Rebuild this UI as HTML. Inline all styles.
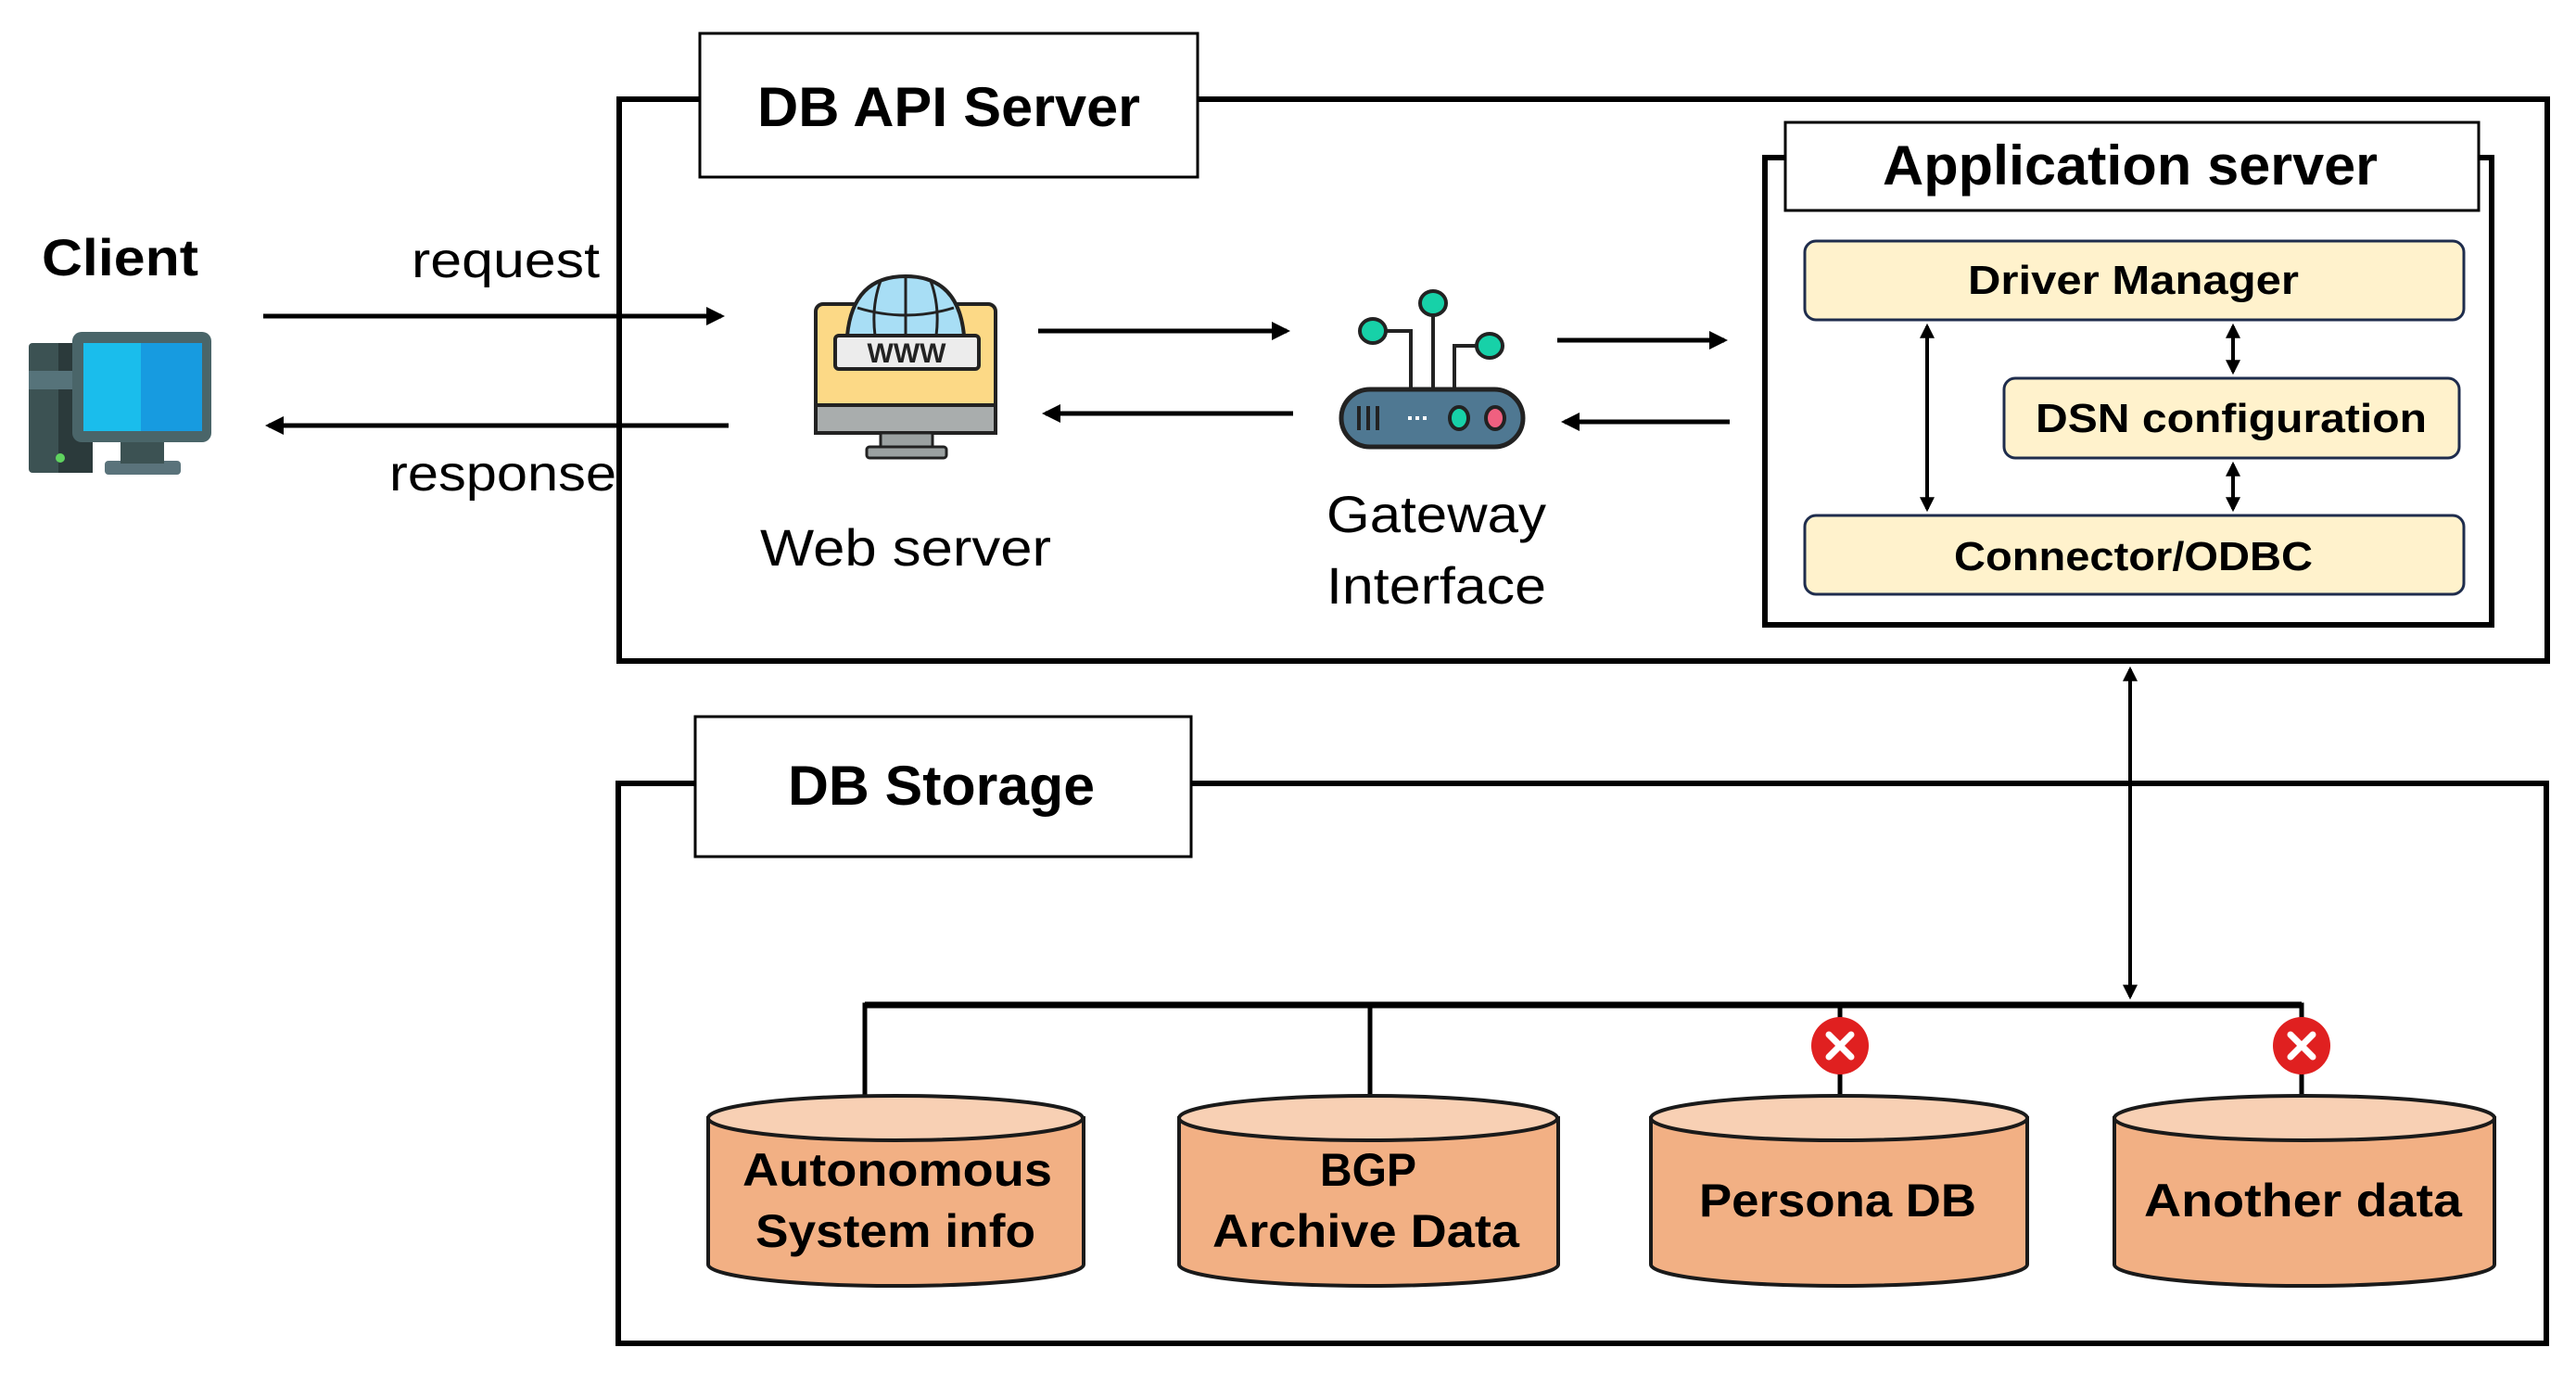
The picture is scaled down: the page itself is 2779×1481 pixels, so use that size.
<!DOCTYPE html>
<html><head><meta charset="utf-8"><style>html,body{margin:0;padding:0;background:#fff}svg{display:block}</style></head>
<body>
<svg width="2779" height="1481" viewBox="0 0 2779 1481" xmlns="http://www.w3.org/2000/svg" font-family="'Liberation Sans', sans-serif">
<defs>
<marker id="ah" markerWidth="4" markerHeight="4" refX="3.2" refY="2" orient="auto-start-reverse" markerUnits="strokeWidth"><path d="M0,0 L4,2 L0,4 Z" fill="#000"/></marker>
</defs>
<!-- DB API Server outer -->
<rect x="668" y="107" width="2080" height="606" fill="none" stroke="#000" stroke-width="6"/>
<rect x="755" y="36" width="537" height="155" fill="#fff" stroke="#000" stroke-width="3"/>
<text x="817" y="136" font-size="60" font-weight="bold" textLength="413" lengthAdjust="spacingAndGlyphs">DB API Server</text>

<!-- Client -->
<text x="45" y="297" font-size="56" font-weight="bold" textLength="169" lengthAdjust="spacingAndGlyphs">Client</text>
<rect x="31" y="370" width="69" height="140" rx="4" fill="#3c5253"/>
<rect x="63" y="370" width="37" height="140" fill="#2b3a3b"/>
<rect x="31" y="400" width="69" height="20" fill="#56737a"/>
<circle cx="65" cy="494" r="5" fill="#5fd35f"/>
<rect x="113" y="497" width="82" height="15" rx="4" fill="#5a737b"/>
<rect x="130" y="474" width="47" height="26" fill="#3c5253"/>
<rect x="78" y="358" width="150" height="119" rx="10" fill="#4a6569"/>
<rect x="90" y="370" width="62" height="95" fill="#1abdec"/>
<rect x="152" y="370" width="66" height="95" fill="#179be0"/>

<!-- request / response -->
<text x="444" y="299" font-size="54" textLength="203" lengthAdjust="spacingAndGlyphs">request</text>
<text x="420" y="529" font-size="54" textLength="245" lengthAdjust="spacingAndGlyphs">response</text>
<line x1="284" y1="341" x2="778" y2="341" stroke="#000" stroke-width="5" marker-end="url(#ah)"/>
<line x1="786" y1="459" x2="290" y2="459" stroke="#000" stroke-width="5" marker-end="url(#ah)"/>

<!-- Web server icon -->
<rect x="880" y="328" width="194" height="139" rx="8" fill="#fcd986" stroke="#222" stroke-width="4"/>
<rect x="880" y="437" width="194" height="30" fill="#a9adad" stroke="#222" stroke-width="4"/>
<rect x="950" y="467" width="56" height="18" fill="#9ba1a1" stroke="#222" stroke-width="3"/>
<rect x="935" y="482" width="86" height="12" rx="3" fill="#9ba1a1" stroke="#222" stroke-width="3"/>
<path d="M914 362 Q920 298 977 298 Q1034 298 1040 362 Z" fill="#a8def5" stroke="#222" stroke-width="4"/>
<path d="M977 298 L977 362 M950 303 Q940 330 944 362 M1004 303 Q1014 330 1010 362 M925 332 Q977 348 1029 332" fill="none" stroke="#222" stroke-width="3"/>
<rect x="901" y="362" width="155" height="36" rx="4" fill="#ececec" stroke="#222" stroke-width="4"/>
<text x="978" y="391" font-size="30" font-weight="bold" text-anchor="middle" fill="#222">WWW</text>
<text x="820" y="610" font-size="56" textLength="314" lengthAdjust="spacingAndGlyphs">Web server</text>

<!-- web<->gateway -->
<line x1="1120" y1="357" x2="1388" y2="357" stroke="#000" stroke-width="5" marker-end="url(#ah)"/>
<line x1="1395" y1="446" x2="1128" y2="446" stroke="#000" stroke-width="5" marker-end="url(#ah)"/>

<!-- Router icon -->
<path d="M1481 357 L1522 357 L1522 420 M1546 327 L1546 420 M1607 373 L1569 373 L1569 420" fill="none" stroke="#222" stroke-width="4"/>
<ellipse cx="1546" cy="327" rx="14" ry="13" fill="#17d1a8" stroke="#222" stroke-width="4"/>
<ellipse cx="1481" cy="357" rx="14" ry="13" fill="#17d1a8" stroke="#222" stroke-width="4"/>
<ellipse cx="1607" cy="373" rx="14" ry="13" fill="#17d1a8" stroke="#222" stroke-width="4"/>
<rect x="1447" y="420" width="196" height="62" rx="31" fill="#4f7892" stroke="#222" stroke-width="5"/>
<path d="M1466 438 L1466 464 M1476 438 L1476 464 M1486 438 L1486 464" stroke="#222" stroke-width="4"/>
<path d="M1519 451 L1523 451 M1527 451 L1531 451 M1535 451 L1539 451" stroke="#fff" stroke-width="4"/>
<ellipse cx="1574" cy="451" rx="10" ry="12" fill="#17d1a8" stroke="#222" stroke-width="4"/>
<ellipse cx="1613" cy="451" rx="10" ry="12" fill="#f06080" stroke="#222" stroke-width="4"/>
<text x="1431" y="574" font-size="56" textLength="237" lengthAdjust="spacingAndGlyphs">Gateway</text>
<text x="1431" y="651" font-size="56" textLength="237" lengthAdjust="spacingAndGlyphs">Interface</text>

<!-- gateway<->app -->
<line x1="1680" y1="367" x2="1860" y2="367" stroke="#000" stroke-width="5" marker-end="url(#ah)"/>
<line x1="1866" y1="455" x2="1688" y2="455" stroke="#000" stroke-width="5" marker-end="url(#ah)"/>

<!-- Application server -->
<rect x="1904" y="170" width="784" height="504" fill="none" stroke="#000" stroke-width="6"/>
<rect x="1926" y="132" width="748" height="95" fill="#fff" stroke="#000" stroke-width="3"/>
<text x="2031" y="199" font-size="60" font-weight="bold" textLength="534" lengthAdjust="spacingAndGlyphs">Application server</text>
<rect x="1947" y="260" width="711" height="85" rx="12" fill="#fff2cc" stroke="#1f2d4d" stroke-width="3"/>
<text x="2123" y="317" font-size="44" font-weight="bold" textLength="357" lengthAdjust="spacingAndGlyphs">Driver Manager</text>
<rect x="2162" y="408" width="491" height="86" rx="12" fill="#fff2cc" stroke="#1f2d4d" stroke-width="3"/>
<text x="2196" y="466" font-size="44" font-weight="bold" textLength="422" lengthAdjust="spacingAndGlyphs">DSN configuration</text>
<rect x="1947" y="556" width="711" height="85" rx="12" fill="#fff2cc" stroke="#1f2d4d" stroke-width="3"/>
<text x="2108" y="615" font-size="44" font-weight="bold" textLength="387" lengthAdjust="spacingAndGlyphs">Connector/ODBC</text>
<line x1="2079" y1="352" x2="2079" y2="549" stroke="#000" stroke-width="4" marker-start="url(#ah)" marker-end="url(#ah)"/>
<line x1="2409" y1="352" x2="2409" y2="401" stroke="#000" stroke-width="4" marker-start="url(#ah)" marker-end="url(#ah)"/>
<line x1="2409" y1="501" x2="2409" y2="549" stroke="#000" stroke-width="4" marker-start="url(#ah)" marker-end="url(#ah)"/>

<!-- DB Storage -->
<rect x="667" y="845" width="2080" height="604" fill="none" stroke="#000" stroke-width="6"/>
<rect x="750" y="773" width="535" height="151" fill="#fff" stroke="#000" stroke-width="3"/>
<text x="850" y="868" font-size="60" font-weight="bold" textLength="331" lengthAdjust="spacingAndGlyphs">DB Storage</text>

<line x1="2298" y1="722" x2="2298" y2="1075" stroke="#000" stroke-width="4" marker-start="url(#ah)" marker-end="url(#ah)"/>
<path d="M933 1184 L933 1084 L2483 1084 L2483 1184 M1478 1084 L1478 1184 M1985 1084 L1985 1184" fill="none" stroke="#000" stroke-width="5"/>
<line x1="933" y1="1084" x2="2483" y2="1084" stroke="#000" stroke-width="7"/>

<!-- cylinders -->
<g stroke="#1a1a1a" stroke-width="4">
<path d="M764 1206 L764 1364 A202 23 0 0 0 1169 1364 L1169 1206 Z" fill="#f2b084"/>
<ellipse cx="966" cy="1206" rx="202" ry="24" fill="#f8d0b4"/>
<path d="M1272 1206 L1272 1364 A204 23 0 0 0 1681 1364 L1681 1206 Z" fill="#f2b084"/>
<ellipse cx="1476" cy="1206" rx="204" ry="24" fill="#f8d0b4"/>
<path d="M1781 1206 L1781 1364 A203 23 0 0 0 2187 1364 L2187 1206 Z" fill="#f2b084"/>
<ellipse cx="1984" cy="1206" rx="203" ry="24" fill="#f8d0b4"/>
<path d="M2281 1206 L2281 1364 A205 23 0 0 0 2691 1364 L2691 1206 Z" fill="#f2b084"/>
<ellipse cx="2486" cy="1206" rx="205" ry="24" fill="#f8d0b4"/>
</g>
<g font-size="50" font-weight="bold">
<text x="801" y="1279" textLength="334" lengthAdjust="spacingAndGlyphs">Autonomous</text>
<text x="815" y="1345" textLength="302" lengthAdjust="spacingAndGlyphs">System info</text>
<text x="1424" y="1279" textLength="104" lengthAdjust="spacingAndGlyphs">BGP</text>
<text x="1308" y="1345" textLength="331" lengthAdjust="spacingAndGlyphs">Archive Data</text>
<text x="1833" y="1312" textLength="299" lengthAdjust="spacingAndGlyphs">Persona DB</text>
<text x="2313" y="1312" textLength="343" lengthAdjust="spacingAndGlyphs">Another data</text>
</g>

<!-- red X markers -->
<g>
<circle cx="1985" cy="1128" r="31" fill="#e02020"/>
<path d="M1973 1116 L1997 1140 M1997 1116 L1973 1140" stroke="#fff" stroke-width="7" stroke-linecap="round"/>
<circle cx="2483" cy="1128" r="31" fill="#e02020"/>
<path d="M2471 1116 L2495 1140 M2495 1116 L2471 1140" stroke="#fff" stroke-width="7" stroke-linecap="round"/>
</g>
</svg>
</body></html>
